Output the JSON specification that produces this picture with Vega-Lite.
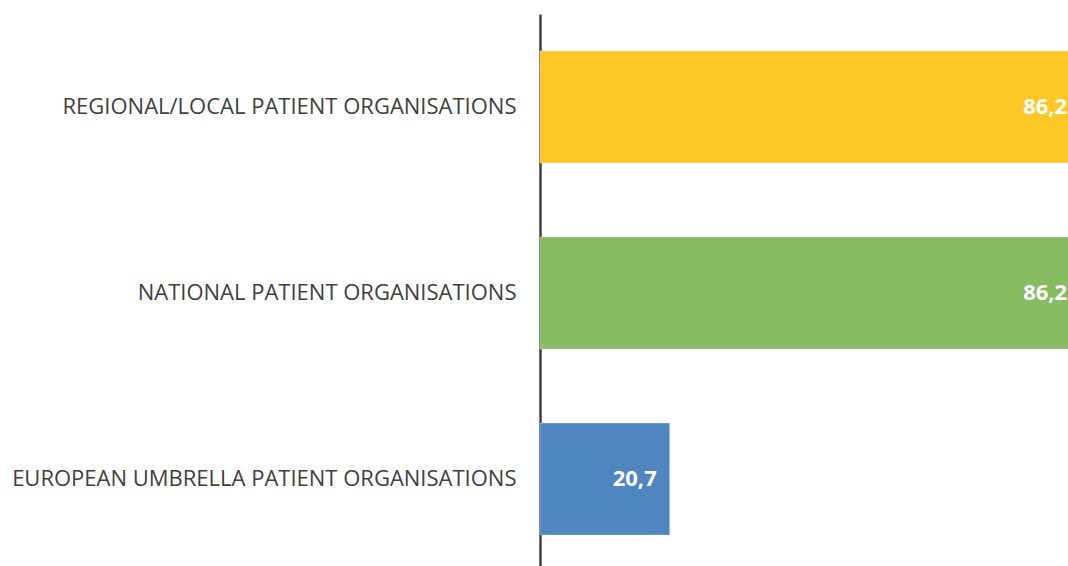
{
  "$schema": "https://vega.github.io/schema/vega-lite/v6.json",
  "autosize": "none",
  "padding": {"left": 540, "top": 14, "right": 0, "bottom": 0},
  "width": 564,
  "height": 558,
  "background": "white",
  "config": {"view": {"stroke": null}},
  "data": {"values": [
    {"category": "REGIONAL/LOCAL PATIENT ORGANISATIONS", "value": 86.2, "label": "86,2"},
    {"category": "NATIONAL PATIENT ORGANISATIONS", "value": 86.2, "label": "86,2"},
    {"category": "EUROPEAN UMBRELLA PATIENT ORGANISATIONS", "value": 20.7, "label": "20,7"}
  ]},
  "encoding": {
    "y": {"field": "category", "type": "nominal", "sort": null,
      "scale": {"paddingInner": 0.398, "paddingOuter": 0.199},
      "axis": {"title": null, "ticks": false, "labelPadding": 24, "labelLimit": 0,
        "labelFont": "Open Sans", "labelFontSize": 22, "labelColor": "#404040",
        "domainColor": "#404040", "domainWidth": 2.5}},
    "x": {"field": "value", "type": "quantitative", "scale": {"domain": [0, 90], "nice": false}, "axis": null}
  },
  "layer": [
    {"mark": {"type": "bar", "stroke": "white", "strokeOpacity": 0.3, "strokeWidth": 1},
     "encoding": {"color": {"field": "category", "type": "nominal", "legend": null,
       "scale": {"domain": ["REGIONAL/LOCAL PATIENT ORGANISATIONS", "NATIONAL PATIENT ORGANISATIONS", "EUROPEAN UMBRELLA PATIENT ORGANISATIONS"],
                 "range": ["#FFC726", "#87BB62", "#4F86C0"]}}}},
    {"mark": {"type": "text", "align": "right", "baseline": "middle", "dx": -13, "color": "white",
      "font": "Open Sans", "fontWeight": "bold", "fontSize": 22},
     "encoding": {"text": {"field": "label"}}}
  ]
}
